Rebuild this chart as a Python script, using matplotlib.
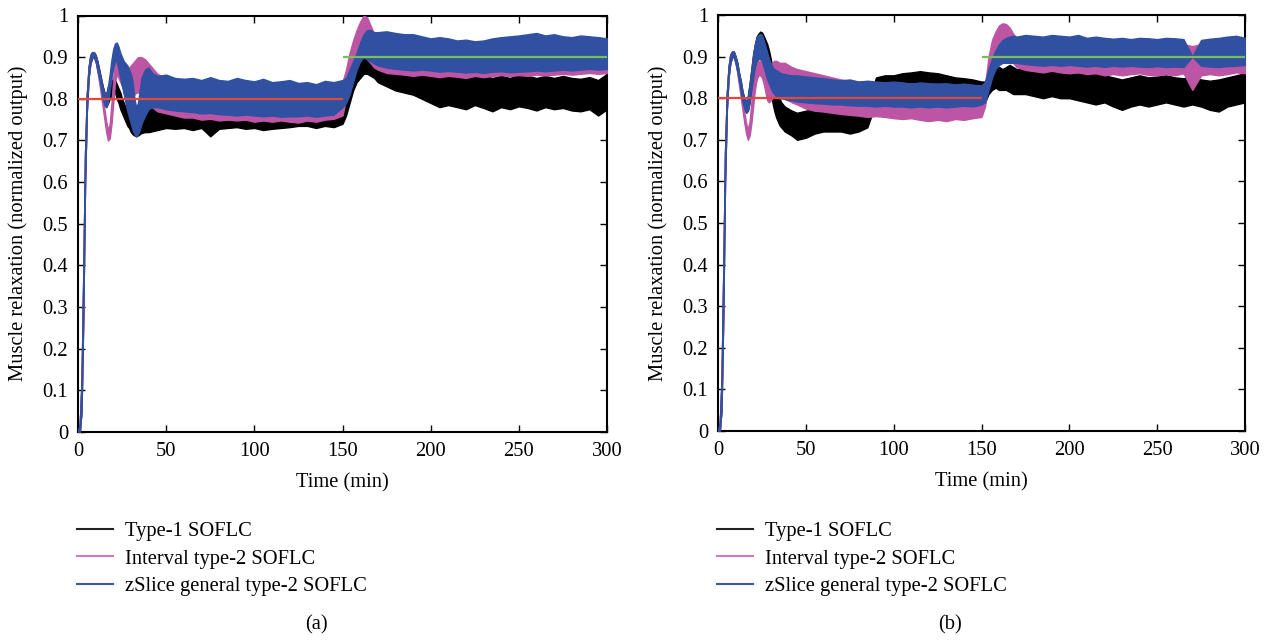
import matplotlib
matplotlib.use('Agg')
import matplotlib.pyplot as plt
from matplotlib.lines import Line2D

plt.rcParams['font.family'] = ['Liberation Serif', 'DejaVu Serif']

# ---------------- data ----------------
T = [0, 1, 2, 3, 4, 5, 6, 7, 8, 9, 10, 11, 12, 13, 14, 15, 16, 17, 18, 19, 20,
     21, 22, 23, 24, 25, 26, 27, 28, 29, 30, 31, 32, 33, 34, 35, 36,
     38, 40, 42, 45,
     50, 55, 60, 65, 70, 75, 80, 85, 90, 95, 100, 105, 110, 115, 120, 125, 130, 135, 140, 145, 150,
     152, 154, 156, 158, 160, 162, 164, 166, 168, 170,
     175, 180, 185, 190, 195, 200, 205, 210, 215, 220, 225, 230, 235, 240, 245, 250,
     255, 260, 265, 270, 275, 280, 285, 290, 295, 300]

SETPOINT_T = [0, 150, 300]
SETPOINT_V = [0.8, 0.9]

# ----- panel (a): lower / upper envelope of each noisy response -----
a_black_lo = [0, 0, 0.05, 0.28, 0.60, 0.77, 0.85, 0.885, 0.898, 0.90, 0.89, 0.87, 0.85, 0.825, 0.80, 0.785, 0.78, 0.79,
              0.80, 0.81, 0.82, 0.815, 0.80, 0.79, 0.775, 0.765, 0.755, 0.745, 0.735, 0.73, 0.72, 0.715, 0.712, 0.71, 0.712, 0.715, 0.718,
              0.72, 0.72, 0.722, 0.725,
              0.73, 0.728, 0.73, 0.725, 0.73, 0.71, 0.728, 0.73, 0.732, 0.728, 0.73, 0.725, 0.728, 0.73, 0.732, 0.735, 0.735, 0.73, 0.735, 0.732, 0.74,
              0.76, 0.79, 0.82, 0.84, 0.85, 0.86, 0.86, 0.855, 0.85, 0.84,
              0.83, 0.82, 0.815, 0.81, 0.80, 0.79, 0.78, 0.785, 0.78, 0.775, 0.785, 0.778, 0.77, 0.78, 0.775, 0.782,
              0.778, 0.772, 0.78, 0.775, 0.778, 0.772, 0.77, 0.775, 0.76, 0.775]
a_black_hi = [0, 0.02, 0.12, 0.38, 0.67, 0.81, 0.875, 0.905, 0.912, 0.912, 0.905, 0.89, 0.87, 0.85, 0.83, 0.815, 0.81, 0.83,
              0.82, 0.84, 0.85, 0.845, 0.835, 0.825, 0.815, 0.80, 0.79, 0.78, 0.77, 0.765, 0.76, 0.755, 0.75, 0.745, 0.75, 0.76, 0.77,
              0.785, 0.79, 0.78, 0.775,
              0.78, 0.785, 0.79, 0.78, 0.775, 0.778, 0.772, 0.77, 0.775, 0.772, 0.77, 0.775, 0.772, 0.77, 0.775, 0.772, 0.775, 0.778, 0.775, 0.775, 0.78,
              0.80, 0.83, 0.86, 0.88, 0.895, 0.905, 0.91, 0.905, 0.90, 0.895,
              0.895, 0.885, 0.88, 0.875, 0.87, 0.865, 0.86, 0.865, 0.86, 0.855, 0.86, 0.855, 0.85, 0.855, 0.85, 0.858,
              0.855, 0.85, 0.855, 0.85, 0.855, 0.85, 0.848, 0.852, 0.845, 0.86]
a_pink_lo = [0, 0, 0.05, 0.28, 0.60, 0.77, 0.85, 0.885, 0.898, 0.90, 0.89, 0.865, 0.84, 0.81, 0.78, 0.75, 0.72, 0.70,
             0.705, 0.74, 0.79, 0.84, 0.86, 0.85, 0.84, 0.83, 0.82, 0.81, 0.805, 0.80, 0.80, 0.805, 0.81, 0.815, 0.815, 0.815, 0.81,
             0.80, 0.79, 0.78, 0.77,
             0.765, 0.76, 0.755, 0.755, 0.75, 0.752, 0.748, 0.75, 0.748, 0.75, 0.745, 0.748, 0.745, 0.748, 0.745, 0.743, 0.748, 0.745, 0.75, 0.752, 0.76,
             0.80, 0.84, 0.88, 0.90, 0.90, 0.90, 0.895, 0.885, 0.875, 0.87,
             0.862, 0.86, 0.858, 0.855, 0.858, 0.855, 0.852, 0.855, 0.853, 0.85, 0.855, 0.852, 0.855, 0.857, 0.855, 0.857,
             0.855, 0.858, 0.856, 0.858, 0.86, 0.858, 0.86, 0.862, 0.86, 0.862]
a_pink_hi = [0, 0.02, 0.12, 0.38, 0.67, 0.81, 0.875, 0.905, 0.912, 0.912, 0.905, 0.885, 0.86, 0.835, 0.80, 0.775, 0.745, 0.725,
             0.74, 0.79, 0.85, 0.89, 0.915, 0.915, 0.905, 0.895, 0.885, 0.875, 0.87, 0.875, 0.88, 0.885, 0.89, 0.895, 0.90, 0.90, 0.90,
             0.895, 0.885, 0.875, 0.86,
             0.85, 0.845, 0.842, 0.843, 0.84, 0.842, 0.838, 0.84, 0.842, 0.838, 0.836, 0.84, 0.835, 0.836, 0.838, 0.834, 0.835, 0.832, 0.836, 0.835, 0.84,
             0.87, 0.91, 0.94, 0.965, 0.985, 1.0, 0.995, 0.975, 0.955, 0.945,
             0.94, 0.938, 0.936, 0.935, 0.935, 0.932, 0.935, 0.932, 0.93, 0.932, 0.93, 0.932, 0.935, 0.936, 0.937, 0.94,
             0.94, 0.942, 0.94, 0.94, 0.938, 0.936, 0.94, 0.942, 0.948, 0.94]
a_blue_lo = [0, 0, 0.05, 0.28, 0.60, 0.77, 0.85, 0.885, 0.898, 0.90, 0.89, 0.87, 0.85, 0.825, 0.80, 0.785, 0.78, 0.79,
             0.82, 0.85, 0.875, 0.89, 0.89, 0.87, 0.85, 0.83, 0.81, 0.79, 0.77, 0.755, 0.74, 0.725, 0.715, 0.71, 0.715, 0.725, 0.74,
             0.76, 0.775, 0.78, 0.78,
             0.775, 0.772, 0.77, 0.768, 0.765, 0.766, 0.763, 0.762, 0.76, 0.762, 0.76, 0.758, 0.76, 0.757, 0.758, 0.758, 0.76, 0.757, 0.76, 0.762, 0.78,
             0.79, 0.81, 0.84, 0.87, 0.89, 0.90, 0.895, 0.89, 0.885, 0.88,
             0.875, 0.872, 0.87, 0.868, 0.87, 0.868, 0.865, 0.867, 0.865, 0.863, 0.865, 0.862, 0.865, 0.866, 0.864, 0.865,
             0.866, 0.868, 0.866, 0.868, 0.87, 0.868, 0.87, 0.872, 0.87, 0.872]
a_blue_hi = [0, 0.02, 0.12, 0.38, 0.67, 0.81, 0.875, 0.905, 0.912, 0.912, 0.905, 0.89, 0.87, 0.85, 0.83, 0.815, 0.81, 0.83,
             0.86, 0.895, 0.92, 0.933, 0.935, 0.925, 0.91, 0.90, 0.89, 0.885, 0.88, 0.87, 0.86, 0.84, 0.80, 0.78, 0.79, 0.82, 0.85,
             0.87, 0.875, 0.862, 0.855,
             0.858, 0.85, 0.848, 0.85, 0.845, 0.852, 0.845, 0.843, 0.85, 0.845, 0.842, 0.848, 0.84, 0.842, 0.845, 0.838, 0.84, 0.835, 0.843, 0.84, 0.845,
             0.85, 0.87, 0.89, 0.91, 0.935, 0.955, 0.965, 0.965, 0.96, 0.96,
             0.962, 0.958, 0.955, 0.955, 0.95, 0.945, 0.948, 0.945, 0.94, 0.942, 0.938, 0.94, 0.945, 0.948, 0.95, 0.952,
             0.955, 0.958, 0.952, 0.955, 0.95, 0.948, 0.952, 0.95, 0.948, 0.945]

# ----- panel (b) -----
b_black_lo = [0, 0, 0.05, 0.28, 0.60, 0.77, 0.85, 0.885, 0.898, 0.90, 0.885, 0.865, 0.84, 0.815, 0.79, 0.775, 0.765, 0.77,
              0.79, 0.82, 0.85, 0.875, 0.89, 0.895, 0.895, 0.89, 0.88, 0.87, 0.855, 0.835, 0.81, 0.79, 0.77, 0.755, 0.745, 0.735, 0.73,
              0.72, 0.715, 0.71, 0.70,
              0.705, 0.715, 0.72, 0.72, 0.72, 0.715, 0.72, 0.73, 0.79, 0.80, 0.80, 0.80, 0.805, 0.80, 0.80, 0.80, 0.795, 0.79, 0.79, 0.79, 0.78,
              0.79, 0.81, 0.82, 0.825, 0.82, 0.82, 0.82, 0.815, 0.81, 0.81,
              0.81, 0.805, 0.80, 0.805, 0.80, 0.80, 0.795, 0.79, 0.785, 0.79, 0.78, 0.772, 0.78, 0.785, 0.78, 0.785,
              0.79, 0.785, 0.78, 0.785, 0.78, 0.772, 0.768, 0.78, 0.785, 0.79]
b_black_hi = [0, 0.02, 0.12, 0.38, 0.67, 0.81, 0.875, 0.905, 0.912, 0.912, 0.90, 0.885, 0.86, 0.84, 0.815, 0.80, 0.79, 0.805,
              0.835, 0.87, 0.905, 0.93, 0.948, 0.955, 0.96, 0.958, 0.95, 0.94, 0.93, 0.915, 0.895, 0.875, 0.85, 0.83, 0.81, 0.80, 0.79,
              0.78, 0.775, 0.77, 0.765,
              0.77, 0.775, 0.78, 0.775, 0.78, 0.775, 0.78, 0.79, 0.85, 0.855, 0.855, 0.86, 0.862, 0.865, 0.862, 0.86, 0.855, 0.85, 0.848, 0.845, 0.84,
              0.84, 0.855, 0.865, 0.87, 0.875, 0.87, 0.875, 0.88, 0.875, 0.87,
              0.87, 0.868, 0.865, 0.87, 0.865, 0.862, 0.86, 0.865, 0.858, 0.855, 0.85, 0.845, 0.85, 0.855, 0.85, 0.852,
              0.855, 0.85, 0.848, 0.85, 0.845, 0.842, 0.845, 0.85, 0.855, 0.86]
b_pink_lo = [0, 0, 0.05, 0.28, 0.60, 0.77, 0.85, 0.885, 0.898, 0.90, 0.885, 0.86, 0.83, 0.80, 0.77, 0.74, 0.715, 0.70,
             0.71, 0.74, 0.78, 0.82, 0.845, 0.855, 0.855, 0.85, 0.835, 0.815, 0.795, 0.79, 0.795, 0.80, 0.805, 0.805, 0.805, 0.80, 0.80,
             0.80, 0.795, 0.79, 0.785,
             0.775, 0.77, 0.768, 0.765, 0.762, 0.76, 0.758, 0.755, 0.757, 0.755, 0.752, 0.75, 0.752, 0.748, 0.745, 0.748, 0.745, 0.75, 0.748, 0.752, 0.755,
             0.78, 0.84, 0.88, 0.90, 0.91, 0.915, 0.91, 0.90, 0.885, 0.875,
             0.868, 0.865, 0.862, 0.866, 0.862, 0.86, 0.862, 0.858, 0.86, 0.855, 0.858, 0.855, 0.858, 0.86, 0.856, 0.855,
             0.858, 0.855, 0.86, 0.82, 0.855, 0.858, 0.855, 0.858, 0.862, 0.86]
b_pink_hi = [0, 0.02, 0.12, 0.38, 0.67, 0.81, 0.875, 0.905, 0.912, 0.912, 0.90, 0.88, 0.855, 0.825, 0.795, 0.765, 0.74, 0.725,
             0.745, 0.79, 0.835, 0.865, 0.88, 0.89, 0.89, 0.885, 0.875, 0.86, 0.85, 0.86, 0.875, 0.885, 0.89, 0.89, 0.888, 0.885, 0.885,
             0.885, 0.88, 0.875, 0.87,
             0.865, 0.86, 0.855, 0.85, 0.845, 0.842, 0.84, 0.84, 0.838, 0.838, 0.836, 0.836, 0.835, 0.835, 0.834, 0.834, 0.833, 0.833, 0.832, 0.832, 0.83,
             0.83, 0.90, 0.94, 0.96, 0.975, 0.98, 0.978, 0.97, 0.955, 0.945,
             0.935, 0.932, 0.93, 0.932, 0.93, 0.93, 0.932, 0.93, 0.93, 0.928, 0.93, 0.928, 0.93, 0.93, 0.928, 0.93,
             0.93, 0.928, 0.93, 0.925, 0.93, 0.93, 0.928, 0.93, 0.932, 0.93]
b_blue_lo = [0, 0, 0.05, 0.28, 0.60, 0.77, 0.85, 0.885, 0.898, 0.90, 0.885, 0.865, 0.84, 0.815, 0.79, 0.775, 0.765, 0.77,
             0.79, 0.82, 0.85, 0.875, 0.89, 0.895, 0.895, 0.89, 0.875, 0.86, 0.845, 0.835, 0.825, 0.815, 0.81, 0.805, 0.80, 0.80, 0.80,
             0.798, 0.795, 0.795, 0.792,
             0.79, 0.788, 0.787, 0.785, 0.785, 0.783, 0.782, 0.782, 0.78, 0.782, 0.78, 0.78, 0.778, 0.78, 0.778, 0.78, 0.778, 0.78, 0.782, 0.78, 0.785,
             0.79, 0.82, 0.85, 0.87, 0.88, 0.885, 0.885, 0.885, 0.885, 0.885,
             0.882, 0.88, 0.878, 0.88, 0.878, 0.88, 0.878, 0.876, 0.878, 0.875, 0.878, 0.876, 0.878, 0.876, 0.875, 0.877,
             0.875, 0.876, 0.875, 0.90, 0.878, 0.876, 0.875, 0.877, 0.878, 0.88]
b_blue_hi = [0, 0.02, 0.12, 0.38, 0.67, 0.81, 0.875, 0.905, 0.912, 0.912, 0.90, 0.885, 0.86, 0.84, 0.815, 0.80, 0.79, 0.805,
             0.835, 0.87, 0.905, 0.93, 0.945, 0.952, 0.955, 0.952, 0.94, 0.925, 0.91, 0.895, 0.885, 0.875, 0.87, 0.868, 0.865, 0.862, 0.86,
             0.858, 0.856, 0.855, 0.855,
             0.852, 0.85, 0.848, 0.845, 0.843, 0.845, 0.84, 0.842, 0.84, 0.838, 0.84, 0.838, 0.835, 0.838, 0.836, 0.835, 0.836, 0.833, 0.835, 0.832, 0.83,
             0.84, 0.87, 0.895, 0.915, 0.93, 0.94, 0.945, 0.948, 0.95, 0.948,
             0.952, 0.95, 0.948, 0.952, 0.95, 0.948, 0.952, 0.945, 0.948, 0.945, 0.943, 0.945, 0.942, 0.945, 0.944, 0.942,
             0.945, 0.944, 0.942, 0.90, 0.94, 0.943, 0.945, 0.948, 0.95, 0.945]

SERIES_NAMES = ['Type-1 SOFLC', 'Interval type-2 SOFLC', 'zSlice general type-2 SOFLC']
X_TICKS = [0, 50, 100, 150, 200, 250, 300]
Y_TICKS = [0, 0.1, 0.2, 0.3, 0.4, 0.5, 0.6, 0.7, 0.8, 0.9, 1.0]
Y_TICK_LABELS = ['0', '0.1', '0.2', '0.3', '0.4', '0.5', '0.6', '0.7', '0.8', '0.9', '1']
CAPTIONS = ['(a)', '(b)']

# ---------------- style ----------------
BAND_COLORS = ['#000000', '#bb55a4', '#3050a2']
LEGEND_COLORS = ['#222222', '#cc7bbf', '#3b55a6']
RED = '#e2473d'
GREEN = '#74c057'
FS = 14.8

W, H = 1267, 640
fig = plt.figure(figsize=(W / 100, H / 100), dpi=100)

panels = [
    dict(rect=[78 / W, 1 - 432 / H, 529 / W, 416.5 / H],
         bands=[(a_black_lo, a_black_hi), (a_pink_lo, a_pink_hi), (a_blue_lo, a_blue_hi)],
         caption_x=316),
    dict(rect=[718 / W, 1 - 431 / H, 527 / W, 416 / H],
         bands=[(b_black_lo, b_black_hi), (b_pink_lo, b_pink_hi), (b_blue_lo, b_blue_hi)],
         caption_x=950),
]

for i, p in enumerate(panels):
    ax = fig.add_axes(p['rect'])
    for k, (lo, hi) in enumerate(p['bands']):
        assert len(lo) == len(T) and len(hi) == len(T), (i, k, len(lo), len(hi))
        ax.fill_between(T, lo, hi, facecolor=BAND_COLORS[k], edgecolor=BAND_COLORS[k],
                        linewidth=1.0, zorder=2 + k)
    ax.hlines(SETPOINT_V[0], SETPOINT_T[0], SETPOINT_T[1], color=RED, lw=1.6, zorder=6)
    ax.hlines(SETPOINT_V[1], SETPOINT_T[1], SETPOINT_T[2], color=GREEN, lw=1.6, zorder=6)

    ax.set_xlim(0, 300)
    ax.set_ylim(0, 1)
    ax.set_xticks(X_TICKS)
    ax.set_xticklabels([str(v) for v in X_TICKS])
    ax.set_yticks(Y_TICKS)
    ax.set_yticklabels(Y_TICK_LABELS)
    ax.tick_params(direction='in', length=5, width=1, top=True, right=True,
                   labelsize=FS, pad=7)
    for s in ax.spines.values():
        s.set_linewidth(1.5)

    ax.set_xlabel('Time (min)', fontsize=FS)
    ax.xaxis.set_label_coords(0.5, -0.098)
    ax.set_ylabel('Muscle relaxation (normalized output)', fontsize=FS)
    ax.yaxis.set_label_coords(-0.095, 0.5)

    handles = [Line2D([], [], color=c, lw=1.5) for c in LEGEND_COLORS]
    left_px = p['rect'][0] * W - 1
    ax.legend(handles, SERIES_NAMES, loc='upper left',
              bbox_to_anchor=(left_px / W, 1 - 522 / H), bbox_transform=fig.transFigure,
              frameon=False, fontsize=FS, borderpad=0, borderaxespad=0,
              handlelength=1.75, handletextpad=0.6, labelspacing=0.38)

    fig.text(p['caption_x'] / W, 1 - 625 / H, CAPTIONS[i], ha='center', va='center', fontsize=FS)

fig.savefig('out.png', dpi=100)
